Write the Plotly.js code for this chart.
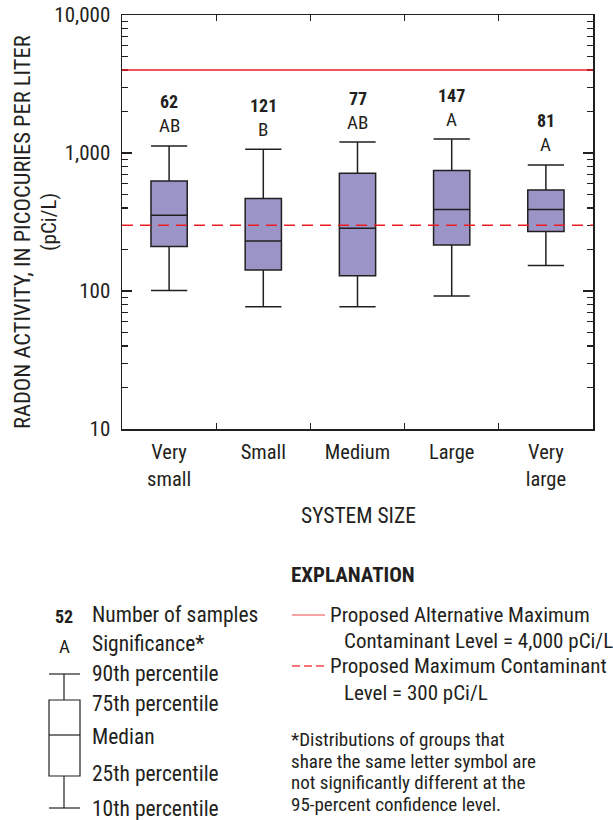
<!DOCTYPE html>
<html>
<head>
<meta charset="utf-8">
<script src="https://cdn.plot.ly/plotly-3.0.1.min.js"></script>
<style>html,body{margin:0;padding:0;background:#fff;}#chart{width:613px;height:820px;}</style>
</head>
<body>
<div id="chart"></div>
<script>
// ---- data ----
const categories = ["Very<br>small", "Small", "Medium", "Large", "Very<br>large"];
const p10 = [101, 77, 77, 92, 153];
const p25 = [210, 142, 129, 215, 270];
const median = [354, 230, 285, 389, 389];
const p75 = [627, 468, 713, 746, 540];
const p90 = [1124, 1063, 1201, 1263, 819];
const sampleCounts = ["62", "121", "77", "147", "81"];
const significance = ["AB", "B", "AB", "A", "A"];
const refLevels = [4000, 300];
const yTickVals = [10, 100, 1000, 10000];
const yTickText = ["10", "100", "1,000", "10,000"];

// ---- styling ----
const FONT = "'Liberation Sans Narrow', 'Arial Narrow', 'Roboto Condensed', 'Liberation Sans', sans-serif";
const INK = "#231f20";
const RED = "rgb(237,28,36)";
const BOXFILL = "#9b94c6";

const L = 122, R = 593, T = 15, B = 429;
const W = 613, H = 820;
const X = px => (px - L) / (R - L);
const Y = py => (B - py) / (B - T);

const minorVals = [];
[10, 100, 1000].forEach(d => { for (let k = 2; k <= 9; k++) minorVals.push(k * d); });

const trace = {
  type: "box",
  x: categories,
  q1: p25, median: median, q3: p75,
  lowerfence: p10, upperfence: p90,
  fillcolor: BOXFILL,
  line: {color: INK, width: 1.5},
  whiskerwidth: 1,
  width: 0.385,
  boxpoints: false,
  hoverinfo: "skip",
  showlegend: false
};

const annotations = [];
categories.forEach((c, i) => {
  annotations.push({x: c, y: Math.log10(p90[i]), xref: "x", yref: "y", text: significance[i],
    showarrow: false, yanchor: "middle", yshift: 20, font: {family: FONT, size: 19, color: INK}});
  annotations.push({x: c, y: Math.log10(p90[i]), xref: "x", yref: "y", text: "<b>" + sampleCounts[i] + "</b>",
    showarrow: false, yanchor: "middle", yshift: 44, font: {family: FONT, size: 18, color: INK}});
});

function txt(px, py, text, size, opts) {
  annotations.push(Object.assign({x: X(px), y: Y(py), xref: "paper", yref: "paper", text: text,
    showarrow: false, xanchor: "left", yanchor: "middle",
    font: {family: FONT, size: size, color: INK}}, opts || {}));
}

// axis titles
annotations.push({x: X(22), y: Y(232), xref: "paper", yref: "paper", textangle: -90,
  text: "RADON ACTIVITY, IN PICOCURIES PER LITER", showarrow: false, xanchor: "center", yanchor: "middle",
  font: {family: FONT, size: 22.5, color: INK}});
annotations.push({x: X(49), y: Y(222), xref: "paper", yref: "paper", textangle: -90,
  text: "(pCi/L)", showarrow: false, xanchor: "center", yanchor: "middle",
  font: {family: FONT, size: 21, color: INK}});
annotations.push({x: X(358), y: Y(515), xref: "paper", yref: "paper",
  text: "SYSTEM SIZE", showarrow: false, xanchor: "center", yanchor: "middle",
  font: {family: FONT, size: 21.5, color: INK}});

// explanation - left
annotations.push({x: X(64), y: Y(616), xref: "paper", yref: "paper", text: "<b>52</b>", showarrow: false,
  xanchor: "center", yanchor: "middle", font: {family: FONT, size: 18, color: INK}});
annotations.push({x: X(64), y: Y(646), xref: "paper", yref: "paper", text: "A", showarrow: false,
  xanchor: "center", yanchor: "middle", font: {family: FONT, size: 19, color: INK}});
txt(90, 614, "Number of samples", 21.5);
txt(90, 643, "Significance*", 21.5);
txt(90, 673, "90th percentile", 21.5);
txt(90, 703, "75th percentile", 21.5);
txt(90, 736, "Median", 21.5);
txt(90, 773, "25th percentile", 21.5);
txt(90, 808, "10th percentile", 21.5);

// explanation - right
txt(289, 575, "<b>EXPLANATION</b>", 21);
txt(328, 615, "Proposed Alternative Maximum", 21);
txt(342, 641, "Contaminant Level = 4,000 pCi/L", 21);
txt(328, 666, "Proposed Maximum Contaminant", 21);
txt(342, 693, "Level = 300 pCi/L", 21);
txt(289, 739, "*Distributions of groups that", 19);
txt(289, 761, "share the same letter symbol are", 19);
txt(289, 782, "not significantly different at the", 19);
txt(289, 804, "95-percent confidence level.", 19);

const shapes = [];
// reference lines
shapes.push({type: "line", xref: "paper", yref: "y", x0: 0, x1: 1, y0: refLevels[0], y1: refLevels[0],
  line: {color: RED, width: 1.5}});
shapes.push({type: "line", xref: "paper", yref: "y", x0: 0, x1: 1, y0: refLevels[1], y1: refLevels[1],
  line: {color: RED, width: 1.5, dash: "11px,7px"}});

function seg(x0, y0, x1, y1, line) {
  shapes.push({type: "line", xref: "paper", yref: "paper", x0: X(x0), y0: Y(y0), x1: X(x1), y1: Y(y1),
    line: line || {color: INK, width: 1.2}});
}
// legend box glyph
seg(49, 674, 80, 674);
seg(64, 674, 64, 700);
shapes.push({type: "rect", xref: "paper", yref: "paper", x0: X(49), y0: Y(700), x1: X(80), y1: Y(776),
  line: {color: INK, width: 1.2}, fillcolor: "rgba(0,0,0,0)"});
seg(49, 735, 80, 735);
seg(64, 776, 64, 808);
seg(49, 808, 80, 808);
// legend lines
seg(292, 615, 325, 615, {color: "rgb(240,70,75)", width: 1.2});
seg(292, 666, 325, 666, {color: "rgb(240,70,75)", width: 1.5, dash: "8px,4px"});

const layout = {
  width: W, height: H,
  margin: {l: L, r: W - R, t: T, b: H - B, pad: 0},
  paper_bgcolor: "#fff", plot_bgcolor: "#fff",
  font: {family: FONT, size: 20, color: INK},
  showlegend: false,
  xaxis: {
    type: "category",
    showgrid: false, zeroline: false,
    showline: true, linecolor: INK, linewidth: 1.5, mirror: "allticks",
    ticks: "inside", ticklen: 6, tickcolor: INK, tickwidth: 1.3,
    tickson: "boundaries",
    tickfont: {family: FONT, size: 20.5, color: INK},
    ticklabelstandoff: 4,
    range: [-0.5, 4.5], fixedrange: true
  },
  yaxis: {
    type: "log", range: [1, 4],
    showgrid: false, zeroline: false,
    showline: true, linecolor: INK, linewidth: 1.5, mirror: "allticks",
    ticks: "inside", ticklen: 10, tickcolor: INK, tickwidth: 1.3,
    tickmode: "array", tickvals: yTickVals, ticktext: yTickText,
    tickfont: {family: FONT, size: 21, color: INK},
    ticklabelstandoff: 6,
    minor: {tickmode: "array", tickvals: minorVals, ticks: "inside", ticklen: 6, tickcolor: INK, tickwidth: 1.3, showgrid: false},
    fixedrange: true
  },
  annotations: annotations,
  shapes: shapes
};

Plotly.newPlot("chart", [trace], layout, {staticPlot: true, displayModeBar: false});
</script>
</body>
</html>
